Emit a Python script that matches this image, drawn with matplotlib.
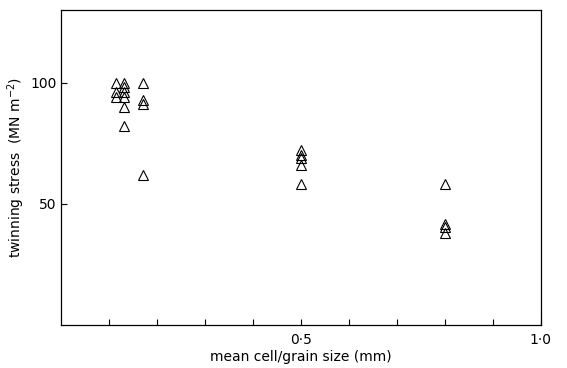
import matplotlib
matplotlib.use("Agg")
import matplotlib.pyplot as plt
import numpy as np

# mean cell/grain size (mm) and twinning stress (MN m^-2)
grain_size = [0.115, 0.115, 0.115,
              0.13, 0.13, 0.13, 0.13, 0.13, 0.13,
              0.17, 0.17, 0.17, 0.17,
              0.5, 0.5, 0.5, 0.5, 0.5,
              0.8, 0.8, 0.8, 0.8]
stress = [100, 96, 94,
          100, 98, 96, 94, 90, 82,
          100, 93, 91, 62,
          72, 70, 69, 66, 58,
          58, 41.5, 40.5, 38]

x_ticks = np.arange(1, 10) / 10
x_labels = {0.5: "0·5", 1.0: "1·0"}
y_ticks = [50, 100]

fig = plt.figure(figsize=(5.67, 3.68), dpi=100)
ax = fig.add_axes([0.108, 0.117, 0.846, 0.856])

ax.plot(grain_size, stress, linestyle="none", marker="^", markersize=7.5,
        markerfacecolor="none", markeredgecolor="black", markeredgewidth=0.8)

ax.set_xlim(0, 1.0)
ax.set_ylim(0, 130)

ax.set_xticks(list(x_ticks) + [1.0])
ax.set_xticklabels([x_labels.get(round(t, 1), "") for t in list(x_ticks) + [1.0]])
ax.set_yticks(y_ticks)
ax.tick_params(axis="both", direction="in", length=4, width=0.8, labelsize=10, colors="black")
ax.tick_params(axis="x", pad=6)

for s in ax.spines.values():
    s.set_linewidth(0.9)
    s.set_color("black")

ax.set_xlabel("mean cell/grain size (mm)", fontsize=10, labelpad=2)
ax.set_ylabel("twinning stress  (MN m$^{-2}$)", fontsize=10, labelpad=2)

fig.savefig("out.png", dpi=100)
